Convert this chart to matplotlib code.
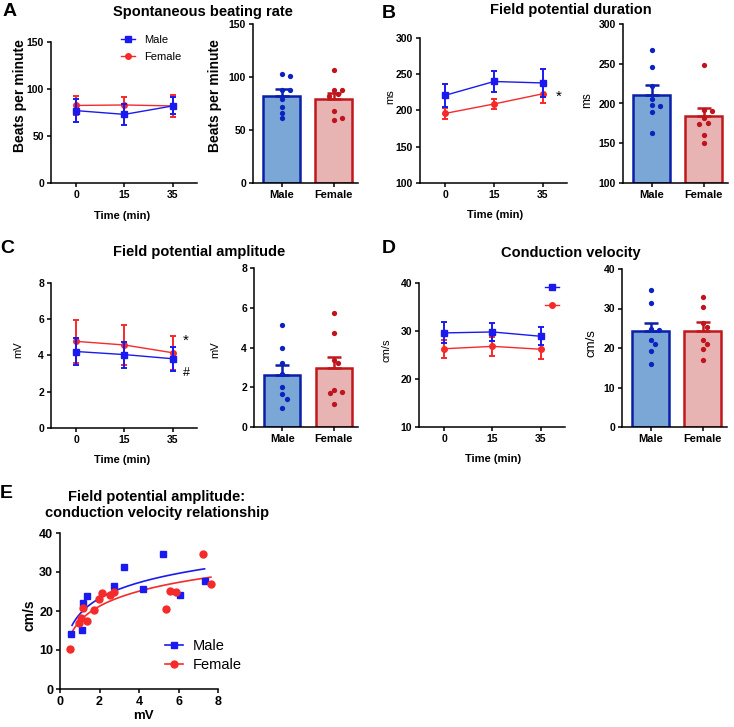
import numpy as np
import matplotlib
matplotlib.use('Agg')
import matplotlib.pyplot as plt
from matplotlib.lines import Line2D

plt.rcParams['font.family'] = ['Liberation Sans', 'DejaVu Sans']

# ---------------- data ----------------
times = ['0', '15', '35']
groups = ['Male', 'Female']

rate_male_mean = [77, 73, 82]
rate_male_err = [12, 11, 9]
rate_female_mean = [82.5, 83, 82]
rate_female_err = [10, 8, 11.5]
rate_bar_mean = [82.5, 79.5]
rate_bar_sem = [6.2, 5.7]
rate_male_pts = [103, 101, 88, 88, 79, 72, 66, 61]
rate_female_pts = [107, 88, 88, 84, 82, 68, 59, 61]

fpd_male_mean = [221, 240, 238]
fpd_male_err = [16, 14, 19]
fpd_female_mean = [196, 209, 223]
fpd_female_err = [8, 7, 13]
fpd_bar_mean = [211, 184]
fpd_bar_sem = [12, 10.5]
fpd_male_pts = [267, 246, 222, 206, 198, 197, 189, 163]
fpd_female_pts = [249, 192, 191, 182, 176, 174, 160, 150]

fpa_male_mean = [4.22, 4.05, 3.82]
fpa_male_err = [0.72, 0.72, 0.66]
fpa_female_mean = [4.78, 4.58, 4.15]
fpa_female_err = [1.17, 1.12, 0.95]
fpa_bar_mean = [2.64, 2.98]
fpa_bar_sem = [0.47, 0.53]
fpa_male_pts = [5.15, 4.0, 3.2, 2.65, 2.0, 1.65, 1.4, 0.97]
fpa_female_pts = [5.72, 4.72, 3.37, 3.2, 1.87, 1.78, 1.7, 1.17]

cv_male_mean = [29.6, 29.8, 28.9]
cv_male_err = [2.2, 1.9, 1.9]
cv_female_mean = [26.3, 26.8, 26.2]
cv_female_err = [1.9, 2.0, 2.1]
cv_bar_mean = [24.3, 24.4]
cv_bar_sem = [2.1, 2.3]
cv_male_pts = [34.7, 31.5, 24.8, 24.5, 22.1, 21.0, 19.3, 15.9]
cv_female_pts = [32.8, 30.3, 26.4, 25.4, 22.1, 21.0, 19.7, 16.9]

e_male_x = [0.56, 1.13, 1.18, 1.38, 2.73, 3.23, 4.18, 5.19, 6.06, 7.32]
e_male_y = [14.0, 15.1, 22.1, 23.8, 26.5, 31.4, 25.7, 34.6, 24.0, 27.8]
e_female_x = [0.49, 0.98, 1.08, 1.18, 1.35, 1.72, 1.95, 2.15, 2.53, 2.71,
              5.37, 5.59, 5.86, 7.26, 7.64]
e_female_y = [10.2, 17.0, 18.1, 20.8, 17.4, 20.3, 23.0, 24.6, 24.1, 24.9,
              20.4, 25.2, 24.8, 34.6, 26.9]

# ---------------- style ----------------
BLUE = '#1a1af0'
RED = '#f52a2a'
M_FILL = '#7ba7d7'
M_EDGE = '#0b1fa8'
F_FILL = '#e8b3b3'
F_EDGE = '#c0181c'
M_PT = '#0a23c0'
F_PT = '#c0141c'

W, H = 734, 727
fig = plt.figure(figsize=(W / 100, H / 100), dpi=100)


def add_ax(l, r, t, b):
    return fig.add_axes([l / W, 1 - b / H, (r - l) / W, (b - t) / H])


def ftext(x, y, s, **kw):
    kw.setdefault('ha', 'center')
    kw.setdefault('va', 'center')
    fig.text(x / W, 1 - y / H, s, **kw)


def style(ax, tsize=7.5):
    for s in ['top', 'right']:
        ax.spines[s].set_visible(False)
    for s in ['left', 'bottom']:
        ax.spines[s].set_linewidth(1.1)
    ax.tick_params(direction='out', length=3, width=1.1, labelsize=tsize, pad=2)
    for lbl in ax.get_xticklabels() + ax.get_yticklabels():
        lbl.set_fontweight('bold')


def line_panel(ax, mm, me, fm, fe, ylim, yticks):
    x = np.arange(len(times))
    kw = dict(capsize=2.5, elinewidth=1.4, capthick=1.4, lw=1.0)
    ax.errorbar(x, fm, yerr=fe, color=RED, marker='o', ms=4, zorder=2, **kw)
    ax.errorbar(x, mm, yerr=me, color=BLUE, marker='s', ms=4.3, zorder=3, **kw)
    ax.set_xlim(-0.52, 2.5)
    ax.set_ylim(*ylim)
    ax.set_yticks(yticks)
    ax.set_xticks(x, times)
    style(ax)
    ax.set_xlabel('Time (min)', fontsize=8, fontweight='bold')


def swarm(ax, center, values, diam_px):
    trans = ax.transData
    inv = trans.inverted()
    cx = trans.transform((center, 0))[0]
    placed = []
    xs = []
    for v in values:
        yp = trans.transform((center, v))[1]
        for k in [0, 1, -1, 2, -2, 3, -3, 4, -4]:
            xp = cx + k * diam_px * 0.85
            if all((xp - a) ** 2 + (yp - b) ** 2 >= diam_px ** 2 for a, b in placed):
                break
        placed.append((xp, yp))
        xs.append(inv.transform((xp, yp))[0])
    return xs


def bar_panel(ax, means, sems, mpts, fpts, ylim, yticks):
    x = np.arange(len(groups))
    base = ylim[0]
    ax.set_xlim(-0.55, 1.47)
    ax.set_ylim(*ylim)
    ax.bar(x, np.array(means) - base, bottom=base, width=0.7,
           color=[M_FILL, F_FILL], edgecolor=[M_EDGE, F_EDGE], linewidth=1.8, zorder=1)
    for i, c in enumerate([M_EDGE, F_EDGE]):
        ax.errorbar(x[i], means[i], yerr=[[0], [sems[i]]], color=c, capsize=5,
                    elinewidth=1.8, capthick=1.8, zorder=2)
    for i, (pts, c) in enumerate([(mpts, M_PT), (fpts, F_PT)]):
        xs = swarm(ax, x[i], pts, 5.0)
        ax.plot(xs, pts, 'o', color=c, ms=3.8, mec='none', zorder=3)
    ax.set_yticks(yticks)
    ax.set_xticks(x, groups)
    style(ax)
    ax.tick_params(axis='x', labelsize=8)
    for lbl in ax.get_xticklabels():
        lbl.set_fontweight('bold')


def ylab(ax, text, xc, yc, size, bold):
    ax.set_ylabel(text, fontsize=size, fontweight='bold' if bold else 'normal')
    ax.yaxis.set_label_coords(xc, yc)


male_h = Line2D([], [], color=BLUE, marker='s', ms=4.3, lw=1.0)
female_h = Line2D([], [], color=RED, marker='o', ms=4, lw=1.0)

# ---------------- Panel A ----------------
axA1 = add_ax(51, 197, 42, 183)
line_panel(axA1, rate_male_mean, rate_male_err, rate_female_mean, rate_female_err,
           (0, 150), [0, 50, 100, 150])
ylab(axA1, 'Beats per minute', -0.164, 0.617, 10, True)
axA1.xaxis.set_label_coords(0.49, -0.2)
axA1.legend([male_h, female_h], ['Male', 'Female'], loc='center left',
            bbox_to_anchor=(0.479, 0.954), frameon=False, fontsize=8,
            handlelength=1.3, handletextpad=0.8, labelspacing=0.7,
            borderpad=0, borderaxespad=0)

axA2 = add_ax(253, 358, 24, 183)
bar_panel(axA2, rate_bar_mean, rate_bar_sem, rate_male_pts, rate_female_pts,
          (0, 150), [0, 50, 100, 150])
ylab(axA2, 'Beats per minute', -0.295, 0.547, 10, True)

# ---------------- Panel B ----------------
axB1 = add_ax(420, 567, 38, 183)
line_panel(axB1, fpd_male_mean, fpd_male_err, fpd_female_mean, fpd_female_err,
           (100, 300), [100, 150, 200, 250, 300])
ylab(axB1, 'ms', -0.17, 0.593, 8, False)
axB1.xaxis.set_label_coords(0.51, -0.186)

axB2 = add_ax(623, 728, 24, 183)
bar_panel(axB2, fpd_bar_mean, fpd_bar_sem, fpd_male_pts, fpd_female_pts,
          (100, 300), [100, 150, 200, 250, 300])
ylab(axB2, 'ms', -0.286, 0.522, 8.5, False)

# ---------------- Panel C ----------------
axC1 = add_ax(51, 197, 283, 428)
line_panel(axC1, fpa_male_mean, fpa_male_err, fpa_female_mean, fpa_female_err,
           (0, 8), [0, 2, 4, 6, 8])
ylab(axC1, 'mV', -0.19, 0.54, 8, False)
axC1.xaxis.set_label_coords(0.49, -0.186)

axC2 = add_ax(254, 358, 268, 427)
bar_panel(axC2, fpa_bar_mean, fpa_bar_sem, fpa_male_pts, fpa_female_pts,
          (0, 8), [0, 2, 4, 6, 8])
ylab(axC2, 'mV', -0.327, 0.484, 8, False)

# ---------------- Panel D ----------------
axD1 = add_ax(419, 565, 283, 427)
line_panel(axD1, cv_male_mean, cv_male_err, cv_female_mean, cv_female_err,
           (10, 40), [10, 20, 30, 40])
ylab(axD1, 'cm/s', -0.185, 0.535, 8, False)
axD1.xaxis.set_label_coords(0.51, -0.19)
axD1.legend([male_h, female_h], ['', ''], loc='center left',
            bbox_to_anchor=(0.863, 0.906), frameon=False, fontsize=8,
            handlelength=1.3, handletextpad=0.0, labelspacing=0.7,
            borderpad=0, borderaxespad=0)

axD2 = add_ax(622, 727, 269, 427)
bar_panel(axD2, cv_bar_mean, cv_bar_sem, cv_male_pts, cv_female_pts,
          (0, 40), [0, 10, 20, 30, 40])
ylab(axD2, 'cm/s', -0.23, 0.53, 9.5, False)

# ---------------- Panel E ----------------
axE = add_ax(60, 218, 533, 689)
axE.plot(e_male_x, e_male_y, 's', color=BLUE, ms=5, zorder=3)
axE.plot(e_female_x, e_female_y, 'o', color=RED, ms=5, zorder=3)
for xs_, ys_, c in [(e_male_x, e_male_y, BLUE), (e_female_x, e_female_y, RED)]:
    b, a = np.polyfit(np.log(xs_), ys_, 1)
    xf = np.linspace(min(xs_) + 0.05, max(xs_), 200)
    axE.plot(xf, a + b * np.log(xf), color=c, lw=1.2, zorder=2)
axE.set_xlim(0, 8)
axE.set_ylim(0, 40)
axE.set_xticks([0, 2, 4, 6, 8])
axE.set_yticks([0, 10, 20, 30, 40])
style(axE, tsize=9)
axE.set_xlabel('mV', fontsize=9.5, fontweight='bold')
axE.xaxis.set_label_coords(0.525, -0.135)
axE.xaxis.label.set_va('top')
ylab(axE, 'cm/s', -0.146, 0.47, 10, True)
male_hE = Line2D([], [], color=BLUE, marker='s', ms=5, lw=1.2)
female_hE = Line2D([], [], color=RED, marker='o', ms=5, lw=1.2)
axE.legend([male_hE, female_hE], ['Male', 'Female'], loc='center left',
           bbox_to_anchor=(0.665, 0.212), frameon=False, fontsize=10.5,
           handlelength=1.2, handletextpad=0.7, labelspacing=0.35,
           borderpad=0, borderaxespad=0)

# ---------------- titles, letters, annotations ----------------
tkw = dict(fontsize=10.5, fontweight='bold')
ftext(203, 12, 'Spontaneous beating rate', **tkw)
ftext(571, 10, 'Field potential duration', **tkw)
ftext(199, 252, 'Field potential amplitude', **tkw)
ftext(571, 253, 'Conduction velocity', **tkw)
ftext(157, 505, 'Field potential amplitude:\nconduction velocity relationship',
      linespacing=1.1, **tkw)

lkw = dict(fontsize=14, fontweight='bold')
ftext(10, 12, 'A', **lkw)
ftext(389, 13, 'B', **lkw)
ftext(7, 249, 'C', **lkw)
ftext(389, 249, 'D', **lkw)
ftext(6, 493, 'E', **lkw)

ftext(559, 97, '*', fontsize=11)
ftext(186, 341, '*', fontsize=11)
ftext(186, 373, '#', fontsize=9)

fig.savefig('out.png', dpi=100)
